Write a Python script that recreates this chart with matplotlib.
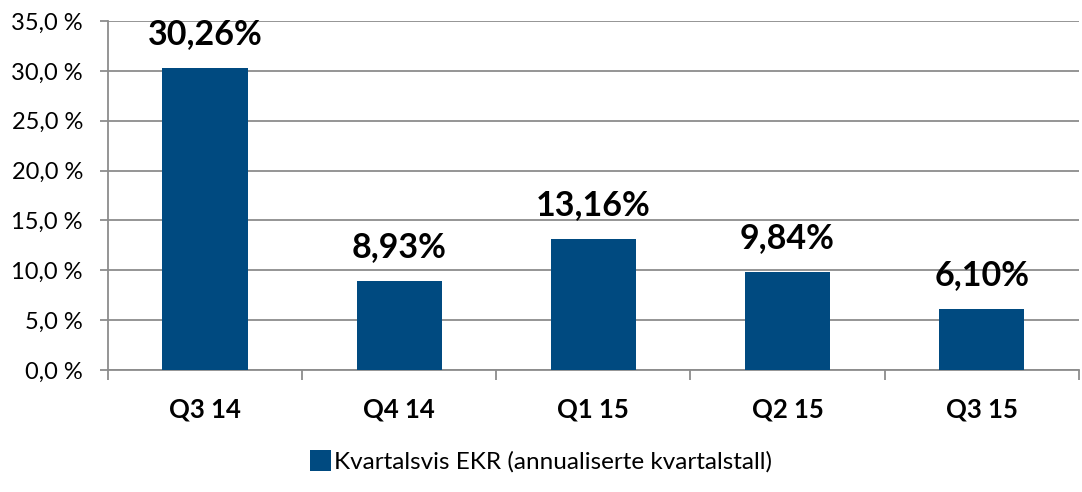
import numpy as np
import matplotlib.pyplot as plt
from matplotlib.ticker import FuncFormatter

plt.rcParams['font.family'] = ['Lato', 'DejaVu Sans']

# Data
kvartal = ['Q3 14', 'Q4 14', 'Q1 15', 'Q2 15', 'Q3 15']
ekr = [30.26, 8.93, 13.16, 9.84, 6.10]
etiketter = ['30,26%', '8,93%', '13,16%', '9,84%', '6,10%']

fig = plt.figure(figsize=(10.82, 4.92), dpi=100)
ax = fig.add_axes([0.0998, 0.248, 0.8972, 0.709])

x = np.arange(len(kvartal))
bars = ax.bar(x, ekr, width=0.44, color='#004a80', zorder=3,
              label='Kvartalsvis EKR (annualiserte kvartalstall)')

for b, txt in zip(bars, etiketter):
    ax.annotate(txt, (b.get_x() + b.get_width() / 2, b.get_height()),
                xytext=(0, 13), textcoords='offset points',
                ha='center', va='bottom', fontsize=24.5, fontweight='bold')

ax.set_xlim(-0.5, len(kvartal) - 0.5)
ax.set_ylim(0, 35)
ax.set_yticks(np.arange(0, 35.1, 5))
ax.yaxis.set_major_formatter(FuncFormatter(lambda v, p: ('%.1f %%' % v).replace('.', ',')))
ax.grid(axis='y', color='#8c8c8c', linewidth=1.3, zorder=0)

# category ticks between bars, labels in centre
ax.set_xticks(np.arange(-0.5, len(kvartal), 1))
ax.set_xticklabels([])
ax.set_xticks(x, minor=True)
ax.set_xticklabels(kvartal, minor=True, fontsize=18.5, fontweight='bold')
ax.tick_params(axis='x', which='minor', length=0, pad=20)
ax.tick_params(axis='x', which='major', length=7, color='#8c8c8c', width=1.3)
ax.tick_params(axis='y', length=6, color='#8c8c8c', width=1.3, labelsize=17, pad=12)

for s in ['top', 'right']:
    ax.spines[s].set_visible(False)
for s in ['left', 'bottom']:
    ax.spines[s].set_color('#8c8c8c')
    ax.spines[s].set_linewidth(1.3)

fig.legend(loc='lower center', bbox_to_anchor=(0.5, -0.005), frameon=False,
           fontsize=17.5, handlelength=0.85, handleheight=0.95, handletextpad=0.15)

fig.savefig('out.png', dpi=100)
